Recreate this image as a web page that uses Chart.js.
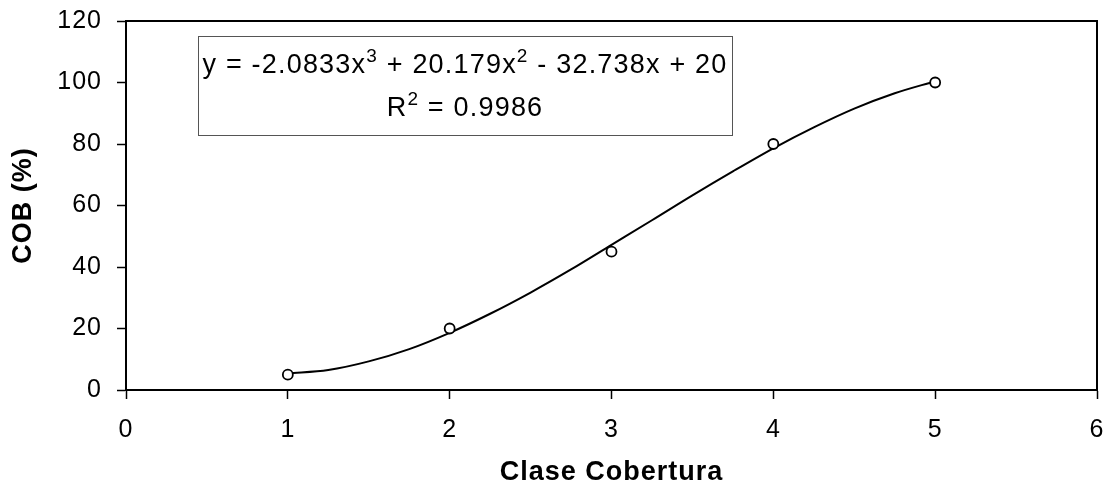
<!DOCTYPE html>
<html><head><meta charset="utf-8">
<script src="https://cdn.jsdelivr.net/npm/chart.js@4"></script>
<style>html,body{margin:0;padding:0;background:#fff;}#wrap{width:1111px;height:494px;}</style>
</head><body><div id="wrap"><canvas id="c" width="1111" height="494"></canvas></div>
<script>
// Observed data
const classes = [1, 2, 3, 4, 5];
const cobValues = [5, 20, 45, 80, 100];
// Trend curve
const trendX = [1, 1.25, 1.5, 1.75, 2, 2.25, 2.5, 2.75, 3, 3.25, 3.5, 3.75, 4, 4.25, 4.5, 4.75, 5];
const trendY = [5.4, 6.5, 9.3, 13.3, 18.6, 24.8, 31.7, 39.2, 47.2, 55.2, 63.3, 71.1, 78.6, 85.4, 91.5, 96.5, 100.4];
const xAxisTitle = 'Clase Cobertura';
const yAxisTitle = 'COB (%)';
const xMin = 0, xMax = 6, xStep = 1;
const yMin = 0, yMax = 120, yStep = 20;
const equationLine1 = [['y = -2.0833x', false], ['3', true], [' + 20.179x', false], ['2', true], [' - 32.738x + 20', false]];
const equationLine2 = [['R', false], ['2', true], [' = 0.9986', false]];

const FONT = '"Liberation Sans", Arial, sans-serif';

const spacingPlugin = {
  id: 'spacing',
  beforeDraw(chart) { chart.ctx.letterSpacing = '1px'; }
};

function drawRuns(ctx, runs, cx, baseline) {
  const mainFont = '27px ' + FONT, supFont = '19px ' + FONT;
  let total = 0;
  const widths = runs.map(([t, sup]) => { ctx.font = sup ? supFont : mainFont; const w = ctx.measureText(t).width; total += w; return w; });
  let x = cx - total / 2;
  runs.forEach(([t, sup], i) => {
    ctx.font = sup ? supFont : mainFont;
    ctx.fillText(t, x, sup ? baseline - 11 : baseline);
    x += widths[i];
  });
}

const framePlugin = {
  id: 'frame',
  afterDraw(chart) {
    const {ctx, chartArea: a} = chart;
    ctx.save();
    ctx.strokeStyle = '#000';
    ctx.lineWidth = 2;
    ctx.beginPath();
    ctx.moveTo(a.left, a.top);
    ctx.lineTo(a.right, a.top);
    ctx.lineTo(a.right, a.bottom);
    ctx.stroke();
    // equation box
    const bx = a.left + 72, by = a.top + 15, bw = 534, bh = 99;
    ctx.fillStyle = '#fff';
    ctx.fillRect(bx, by, bw, bh);
    ctx.strokeStyle = '#555';
    ctx.lineWidth = 1;
    ctx.strokeRect(Math.round(bx) + 0.5, Math.round(by) + 0.5, bw, bh);
    ctx.fillStyle = '#000';
    ctx.textAlign = 'left';
    ctx.textBaseline = 'alphabetic';
    ctx.letterSpacing = '1.2px';
    drawRuns(ctx, equationLine1, bx + bw / 2, by + 37);
    drawRuns(ctx, equationLine2, bx + bw / 2, by + 80);
    ctx.restore();
  }
};

const axisCommon = {
  grid: { drawOnChartArea: false, drawTicks: true, tickLength: 9, tickWidth: 1.5, tickColor: '#000' },
  border: { display: true, color: '#000', width: 2 }
};

new Chart(document.getElementById('c'), {
  type: 'scatter',
  data: {
    datasets: [
      {
        label: 'COB',
        data: classes.map((c, i) => ({x: c, y: cobValues[i]})),
        showLine: false,
        pointStyle: 'circle',
        pointRadius: 5,
        pointBorderWidth: 1.8,
        pointBorderColor: '#000',
        pointBackgroundColor: '#fff',
        order: 0
      },
      {
        label: 'Trend',
        data: trendX.map((x, i) => ({x: x, y: trendY[i]})),
        showLine: true,
        borderColor: '#000',
        borderWidth: 2,
        pointRadius: 0,
        cubicInterpolationMode: 'monotone',
        order: 1
      }
    ]
  },
  options: {
    responsive: false,
    animation: false,
    devicePixelRatio: 1,
    layout: { padding: { left: 0, top: 21, right: 14, bottom: 0 } },
    plugins: { legend: { display: false }, tooltip: { enabled: false } },
    scales: {
      x: {
        type: 'linear', min: xMin, max: xMax,
        ...axisCommon,
        ticks: { stepSize: xStep, color: '#000', font: { family: FONT, size: 25 }, padding: 16 },
        title: { display: true, text: xAxisTitle, color: '#000', font: { family: FONT, size: 27, weight: 'bold' }, padding: { top: 0, bottom: 5 } },
        afterFit(s) { s.height = 104; s.paddingLeft = 0; s.paddingRight = 0; }
      },
      y: {
        type: 'linear', min: yMin, max: yMax,
        ...axisCommon,
        ticks: { stepSize: yStep, color: '#000', font: { family: FONT, size: 25 }, padding: 15 },
        title: { display: true, text: yAxisTitle, color: '#000', font: { family: FONT, size: 27, weight: 'bold' }, padding: { top: 7, bottom: 0 } },
        afterFit(s) { s.width = 126; s.paddingTop = 0; s.paddingBottom = 0; }
      }
    }
  },
  plugins: [spacingPlugin, framePlugin]
});
</script>
</body></html>
